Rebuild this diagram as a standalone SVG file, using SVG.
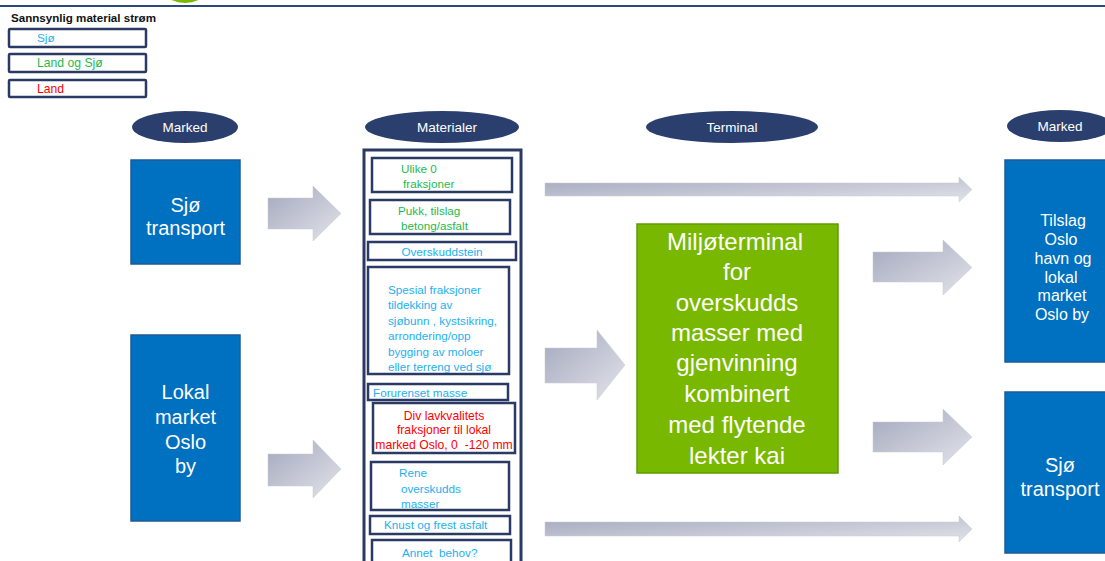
<svg xmlns="http://www.w3.org/2000/svg" width="1105" height="561" viewBox="0 0 1105 561">
<defs>
<linearGradient id="ag" x1="0" y1="0" x2="1" y2="1">
<stop offset="0" stop-color="#a4a8bd"/>
<stop offset="1" stop-color="#e2e3ea"/>
</linearGradient>
<style>
text{font-family:"Liberation Sans",Arial,sans-serif}
.leg{fill:#fff;stroke:#2b3a64;stroke-width:2.5}
.ell{fill:#2b3f6e}
.ellt{fill:#fff;font-size:13.5px;text-anchor:middle}
.blue{fill:#0070c0;stroke:#1f5a96;stroke-width:1.5}
.bt{fill:#fff;text-anchor:middle}
.ib{fill:#fff;stroke:#2b3a64;stroke-width:2.5}
.s{font-size:11.7px;fill:#1cb1ef}
.g{font-size:11.7px;fill:#1fb950}
.r{font-size:12.2px;fill:#ff0000}
.arr{fill:url(#ag);stroke:#c8cad6;stroke-width:0.5}
</style>
</defs>
<rect width="1105" height="561" fill="#fff"/>
<line x1="0" y1="6" x2="1105" y2="6" stroke="#2b4a7c" stroke-width="2"/>
<ellipse cx="185" cy="-6" rx="18" ry="9" fill="#7ab800"/>

<g id="legend">
<text x="11" y="22" font-size="11.6" font-weight="bold" fill="#111">Sannsynlig material strøm</text>
<rect class="leg" x="9" y="29" width="137" height="18" rx="1"/>
<text class="s" x="37" y="42" font-size="12">Sjø</text>
<rect class="leg" x="9" y="54" width="137" height="18" rx="1"/>
<text class="g" x="37" y="67" style="font-size:12.2px">Land og Sjø</text>
<rect class="leg" x="9" y="80" width="137" height="17" rx="1"/>
<text class="r" x="37" y="93">Land</text>
</g>

<g id="hdr-marked-left"><ellipse class="ell" cx="185" cy="127" rx="53" ry="16"/><text class="ellt" x="185" y="132">Marked</text></g>
<g id="hdr-materialer"><ellipse class="ell" cx="442" cy="127" rx="77" ry="16"/><text class="ellt" x="447" y="132">Materialer</text></g>
<g id="hdr-terminal"><ellipse class="ell" cx="732" cy="127" rx="86" ry="16"/><text class="ellt" x="732" y="132">Terminal</text></g>
<g id="hdr-marked-right"><ellipse class="ell" cx="1060" cy="126" rx="53" ry="16"/><text class="ellt" x="1060" y="131">Marked</text></g>

<g id="sjo-transport-left">
<rect class="blue" x="131" y="160" width="109" height="104"/>
<text class="bt" x="185.5" y="212" font-size="20">Sjø</text>
<text class="bt" x="185.5" y="235" font-size="20">transport</text>
</g>
<g id="lokal-market-left">
<rect class="blue" x="131" y="335" width="109" height="186"/>
<text class="bt" x="185.5" y="399" font-size="20">Lokal</text>
<text class="bt" x="185.5" y="424" font-size="20">market</text>
<text class="bt" x="185.5" y="449" font-size="20">Oslo</text>
<text class="bt" x="185.5" y="473" font-size="20">by</text>
</g>

<g id="materialer">
<rect x="364" y="150" width="157" height="420" fill="#fff" stroke="#2b3a64" stroke-width="3"/>
<rect class="ib" x="372" y="158" width="140" height="34"/>
<text class="g" x="401" y="173">Ulike 0</text><text class="g" x="403" y="188">fraksjoner</text>
<rect class="ib" x="370" y="200" width="140" height="34"/>
<text class="g" x="398" y="215">Pukk, tilslag</text><text class="g" x="401" y="230">betong/asfalt</text>
<rect class="ib" x="368" y="242" width="148" height="18"/>
<text class="s" x="442" y="256" text-anchor="middle">Overskuddstein</text>
<rect class="ib" x="368" y="267" width="141" height="107"/>
<text class="s" x="388" y="294">Spesial fraksjoner</text>
<text class="s" x="388" y="309">tildekking av</text>
<text class="s" x="388" y="325">sjøbunn , kystsikring,</text>
<text class="s" x="388" y="340">arrondering/opp</text>
<text class="s" x="388" y="356">bygging av moloer</text>
<text class="s" x="388" y="371">eller terreng ved sjø</text>
<rect class="ib" x="368" y="384" width="140" height="16"/>
<text class="s" x="373" y="397">Forurenset masse</text>
<rect class="ib" x="373" y="403" width="142" height="50"/>
<text class="r" x="444" y="420" text-anchor="middle">Div lavkvalitets</text>
<text class="r" x="444" y="434" text-anchor="middle">fraksjoner til lokal</text>
<text class="r" x="444" y="449" text-anchor="middle" xml:space="preserve">marked Oslo, 0  -120 mm</text>
<rect class="ib" x="371" y="462" width="138" height="48"/>
<text class="s" x="399" y="477">Rene</text><text class="s" x="401" y="493">overskudds</text><text class="s" x="401" y="508">masser</text>
<rect class="ib" x="370" y="516" width="140" height="18"/>
<text class="s" x="384" y="529">Knust og frest asfalt</text>
<rect class="ib" x="372" y="540" width="139" height="30"/>
<text class="s" x="402" y="557" xml:space="preserve">Annet  behov?</text>
</g>

<g id="terminal">
<rect x="637" y="224" width="201" height="249" fill="#78b800" stroke="#5e9a0a" stroke-width="1.5"/>
<g class="bt" font-size="24">
<text x="735" y="250">Miljøterminal</text>
<text x="737" y="280">for</text>
<text x="737" y="311">overskudds</text>
<text x="737" y="341">masser med</text>
<text x="737" y="371">gjenvinning</text>
<text x="737" y="402">kombinert</text>
<text x="737" y="433">med flytende</text>
<text x="737" y="464">lekter kai</text>
</g>
</g>

<g id="tilslag-right">
<rect class="blue" x="1005" y="160" width="110" height="202"/>
<g class="bt" font-size="16">
<text x="1063" y="226">Tilslag</text>
<text x="1061" y="245">Oslo</text>
<text x="1063" y="264">havn og</text>
<text x="1061" y="283">lokal</text>
<text x="1062" y="301">market</text>
<text x="1062" y="320">Oslo by</text>
</g>
</g>
<g id="sjo-transport-right">
<rect class="blue" x="1005" y="392" width="110" height="161"/>
<text class="bt" x="1060" y="472" font-size="20">Sjø</text>
<text class="bt" x="1060" y="496" font-size="20">transport</text>
</g>

<g id="connectors">
<path class="arr" d="M268,198 H313 V186 L341,213.5 L313,241 V229 H268 Z"/>
<path class="arr" d="M268,454 H313 V440 L341,469 L313,498 V486 H268 Z"/>
<path class="arr" d="M545,348 H597 V330 L625,365 L597,400 V383 H545 Z"/>
<path class="arr" d="M873,252 H943 V240 L972,267.5 L943,295 V282 H873 Z"/>
<path class="arr" d="M873,422 H943 V409 L972,437 L943,465 V452 H873 Z"/>
<path class="arr" d="M545,183 H959 V177 L972,189.5 L959,202 V196 H545 Z"/>
<path class="arr" d="M545,522 H959 V516 L972,529 L959,542 V536 H545 Z"/>
</g>
</svg>
